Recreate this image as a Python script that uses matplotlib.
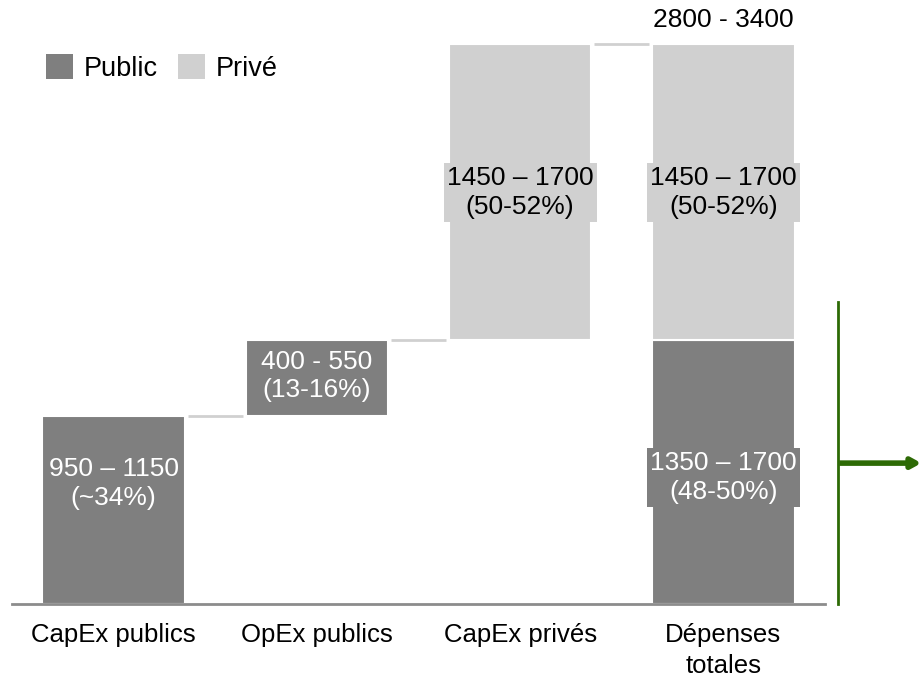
import matplotlib
matplotlib.use("Agg")
import matplotlib.pyplot as plt
from matplotlib.patches import Patch

plt.rcParams['font.family'] = ['Liberation Sans', 'DejaVu Sans']

# data (values in the chart's own units)
categories = ["CapEx publics", "OpEx publics", "CapEx privés", "Dépenses\ntotales"]
step_values = [1040, 420, 1640]          # the three waterfall steps
step_types = ["public", "public", "prive"]
step_labels = ["950 – 1150\n(~34%)", "400 - 550\n(13-16%)", "1450 – 1700\n(50-52%)"]
total_public = 1460
total_prive = 1640
total_labels = ["1350 – 1700\n(48-50%)", "1450 – 1700\n(50-52%)"]
total_range = "2800 - 3400"

DARK = "#7f7f7f"
LIGHT = "#d0d0d0"
GREEN = "#2d6a05"
colors = {"public": DARK, "prive": LIGHT}
txtcol = {"public": "white", "prive": "black"}

fig = plt.figure(figsize=(9.21, 6.77), dpi=100)
ax = fig.add_axes([12/921, 73/677, 813/921, 604/677])
W = 0.70

# waterfall steps
bottom = 0
tops = []
for i, (v, t) in enumerate(zip(step_values, step_types)):
    ax.bar(i, v, bottom=bottom, width=W, color=colors[t], edgecolor="white", linewidth=1.5)
    bottom += v
    tops.append(bottom)

# total bar, stacked
ax.bar(3, total_public, width=W, color=DARK, edgecolor="white", linewidth=1.5)
ax.bar(3, total_prive, bottom=total_public, width=W, color=LIGHT, edgecolor="white", linewidth=1.5)

# connectors
for i, y in enumerate(tops):
    ax.plot([i + W/2 + 0.015, i + 1 - W/2 - 0.015], [y, y], color=LIGHT, lw=2, solid_capstyle="butt")

# value labels (box in bar colour)
label_y = [668, 1262, 2280]
for i, (lab, t) in enumerate(zip(step_labels, step_types)):
    ax.text(i, label_y[i], lab, ha="center", va="center", fontsize=19, color=txtcol[t],
            linespacing=1.25,
            bbox=dict(boxstyle="square,pad=0.12", fc=colors[t], ec="none"))
ax.text(3, 700, total_labels[0], ha="center", va="center", fontsize=19, color="white",
        linespacing=1.25, bbox=dict(boxstyle="square,pad=0.12", fc=DARK, ec="none"))
ax.text(3, 2280, total_labels[1], ha="center", va="center", fontsize=19, color="black",
        linespacing=1.25, bbox=dict(boxstyle="square,pad=0.12", fc=LIGHT, ec="none"))
ax.text(3, 3233, total_range, ha="center", va="center", fontsize=19, color="black")

# green bracket + arrow on the right
ax.plot([3.564, 3.564], [0, 1672], color=GREEN, lw=2, clip_on=False)
ax.annotate("", xy=(3.975, 780), xytext=(3.57, 780),
            arrowprops=dict(arrowstyle="-|>,head_length=0.55,head_width=0.3", color=GREEN, lw=4,
                            shrinkA=0, shrinkB=0, capstyle="butt"),
            annotation_clip=False)

ax.set_xlim(-0.5, 3.5)
ax.set_ylim(0, 3344)
ax.set_xticks(range(4))
ax.set_xticklabels(categories, fontsize=18.5, linespacing=1.35)
ax.tick_params(axis="x", length=0, pad=14)
ax.set_yticks([])
for s in ["top", "right", "left"]:
    ax.spines[s].set_visible(False)
ax.spines["bottom"].set_color("#8c8c8c")
ax.spines["bottom"].set_linewidth(2)

handles = [Patch(facecolor=DARK, label="Public"), Patch(facecolor=LIGHT, label="Privé")]
ax.legend(handles=handles, ncol=2, frameon=False, fontsize=19.5, handlelength=1.0, handleheight=1.0,
          handletextpad=0.38, columnspacing=0.76, borderpad=0, borderaxespad=0,
          loc="center left", bbox_to_anchor=(46/921, 1 - 68/677), bbox_transform=fig.transFigure)

fig.savefig("out.png", dpi=100)
